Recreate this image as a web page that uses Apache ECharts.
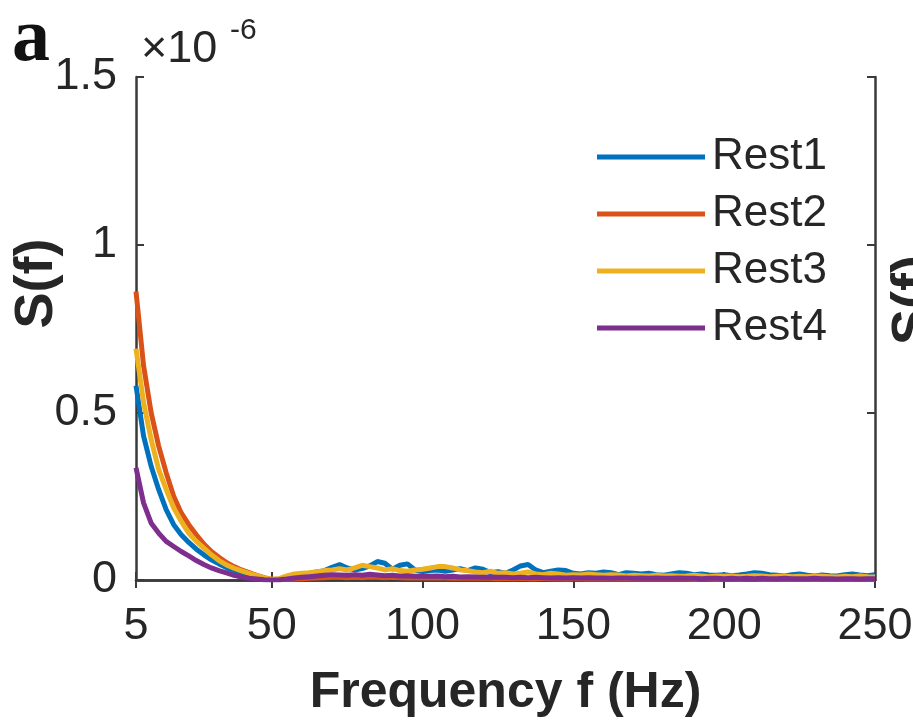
<!DOCTYPE html>
<html>
<head>
<meta charset="utf-8">
<script src="https://cdn.jsdelivr.net/npm/echarts@6/dist/echarts.min.js"></script>
<style>html,body{margin:0;padding:0;background:#fff;}#c{width:913px;height:723px;}</style>
</head>
<body>
<div id="c"></div>
<script>
// Frequency (Hz)
var freq = [
  5,7.5,10,12.5,15,17.5,20,22.5,25,27.5,
  30,32.5,35,37.5,40,42.5,45,47.5,50,
  52.5,55,57.5,60,62.5,65,67.5,70,72.5,75,
  77.5,80,82.5,85,87.5,90,92.5,95,97.5,100,
  102.5,105,107.5,110,112.5,115,117.5,120,122.5,125,
  127.5,130,132.5,135,137.5,140,142.5,145,147.5,150,
  152.5,155,157.5,160,162.5,165,167.5,170,172.5,175,
  177.5,180,182.5,185,187.5,190,192.5,195,197.5,200,
  202.5,205,207.5,210,212.5,215,217.5,220,222.5,225,
  227.5,230,232.5,235,237.5,240,242.5,245,247.5,250
];
// S(f) in units of 1e-6
var rest1 = [
  0.58,0.43,0.34,0.27,0.21,0.165,0.135,0.112,0.092,0.075,
  0.06,0.048,0.037,0.028,0.02,0.014,0.009,0.004,0.001,
  .003,.008,.012,.016,.02,.024,.028,.038,.046,.036,
  .03,.034,.042,.055,.05,.032,.044,.048,.03,.025,
  .028,.03,.026,.03,.034,.028,.036,.032,.022,.025,
  .02,.03,.042,.046,.03,.022,.026,.03,.028,.02,
  .018,.022,.02,.024,.022,.016,.022,.02,.018,.02,
  .016,.014,.018,.022,.02,.016,.018,.015,.014,.016,
  .013,.015,.018,.022,.02,.016,.014,.012,.016,.018,
  .014,.012,.015,.013,.012,.016,.018,.015,.013,.016
];
var rest2 = [
  0.86,0.64,0.50,0.40,0.32,0.25,0.20,0.165,0.135,0.107,
  0.085,0.068,0.052,0.04,0.03,0.022,0.014,0.007,0.002,
  .001,.002,.003,.004,.005,.006,.007,.008,.008,.007,
  .008,.007,.009,.008,.007,.008,.007,.006,.007,.006,
  .006,.007,.006,.005,.006,.005,.005,.006,.005,.004,
  .005,.004,.005,.004,.004,.005,.004,.004,.003,.004,
  .004,.003,.004,.003,.004,.003,.003,.004,.003,.003,
  .003,.003,.004,.003,.003,.002,.003,.003,.002,.003,
  .003,.002,.003,.003,.002,.003,.002,.002,.003,.002,
  .002,.003,.002,.002,.003,.002,.002,.002,.003,.002
];
var rest3 = [
  0.69,0.53,0.42,0.33,0.27,0.215,0.175,0.14,0.115,0.095,
  0.075,0.058,0.045,0.035,0.027,0.02,0.013,0.006,0.002,
  .004,.012,.018,.02,.022,.025,.028,.03,.034,.03,
  .036,.044,.04,.036,.03,.034,.028,.026,.03,.032,
  .036,.04,.04,.036,.03,.028,.024,.022,.026,.02,
  .022,.018,.02,.024,.018,.016,.02,.018,.014,.016,
  .015,.018,.016,.014,.016,.015,.012,.014,.013,.012,
  .014,.012,.013,.011,.012,.014,.012,.01,.012,.011,
  .012,.01,.011,.013,.012,.01,.011,.012,.01,.011,
  .01,.012,.011,.01,.009,.011,.01,.012,.01,.009
];
var rest4 = [
  0.335,0.23,0.17,0.14,0.115,0.1,0.085,0.072,0.058,0.046,
  0.036,0.028,0.021,0.014,0.009,0.005,0.003,0.001,0,
  .001,.003,.006,.008,.01,.012,.014,.016,.015,.014,
  .016,.014,.017,.015,.013,.014,.012,.013,.011,.012,
  .011,.012,.01,.011,.009,.01,.009,.008,.009,.008,
  .008,.007,.008,.007,.008,.007,.006,.007,.006,.007,
  .006,.007,.006,.006,.005,.006,.006,.005,.006,.005,
  .006,.005,.005,.006,.005,.005,.004,.005,.005,.004,
  .005,.004,.005,.004,.005,.004,.004,.005,.004,.004,
  .004,.005,.004,.004,.003,.004,.004,.003,.004,.004
];
var seriesNames = ['Rest1','Rest2','Rest3','Rest4'];
var seriesData = [rest1, rest2, rest3, rest4];
var colors = ['#0072BD','#D95319','#EDB120','#7E2F8E'];
var xTicks = [5,50,100,150,200,250];
var yTicks = [0,0.5,1,1.5];

var FONT = '"Liberation Sans", Arial, Helvetica, sans-serif';
var AX = '#3a3a3a';
var TXT = '#262626';

function pairs(d){ return freq.map(function(f,i){ return [f, d[i]]; }); }

var chart = echarts.init(document.getElementById('c'), null, {renderer:'canvas'});
var axisLineStyle = {color: AX, width: 2.5};
var option = {
  animation: false,
  backgroundColor: '#fff',
  color: colors,
  grid: {left: 136, right: 38, top: 77, bottom: 143, containLabel: false, outerBoundsMode: 'none'},
  legend: {
    orient: 'vertical', left: 592, top: 130,
    itemWidth: 108, itemHeight: 5, itemGap: 13,
    icon: 'rect',
    textStyle: {fontFamily: FONT, fontSize: 44, color: TXT, padding: [0,0,0,2]},
    data: seriesNames
  },
  xAxis: [{
    type: 'value', min: 5, max: 250, position: 'bottom',
    name: 'Frequency f (Hz)', nameLocation: 'middle', nameGap: 88, nameMoveOverlap: false,
    nameTextStyle: {fontFamily: FONT, fontSize: 50, fontWeight: 'bold', color: TXT},
    axisLine: {show: true, lineStyle: axisLineStyle},
    axisTick: {show: true, inside: true, length: 8, lineStyle: {color: AX, width: 2}, customValues: xTicks},
    axisLabel: {fontFamily: FONT, fontSize: 45, color: TXT, margin: 24, customValues: xTicks, showMinLabel: true, showMaxLabel: true},
    splitLine: {show: false}
  },{
    type: 'value', min: 5, max: 250, position: 'top',
    axisLine: {show: true, lineStyle: axisLineStyle},
    axisTick: {show: true, inside: true, length: 8, lineStyle: {color: AX, width: 2}, customValues: xTicks},
    axisLabel: {show: false},
    splitLine: {show: false}
  }],
  yAxis: [{
    type: 'value', min: 0, max: 1.5, interval: 0.5, position: 'left',
    name: 'S(f)', nameLocation: 'middle', nameGap: 72, nameRotate: 90, nameMoveOverlap: false,
    nameTextStyle: {fontFamily: FONT, fontSize: 54, fontWeight: 'bold', color: TXT, padding: [0,0,0,90]},
    axisLine: {show: true, lineStyle: axisLineStyle},
    axisTick: {show: true, inside: true, length: 8, lineStyle: {color: AX, width: 2}},
    axisLabel: {fontFamily: FONT, fontSize: 45, color: TXT, margin: 19,
      formatter: function(v){ return String(v); }},
    splitLine: {show: false}
  },{
    type: 'value', min: 0, max: 1.5, interval: 0.5, position: 'right',
    axisLine: {show: true, lineStyle: axisLineStyle},
    axisTick: {show: true, inside: true, length: 8, lineStyle: {color: AX, width: 2}},
    axisLabel: {show: false},
    splitLine: {show: false}
  }],
  series: seriesNames.map(function(n, i){
    return {
      name: n, type: 'line', xAxisIndex: 0, yAxisIndex: 0,
      data: pairs(seriesData[i]), showSymbol: false, symbol: 'none',
      lineStyle: {width: 5, color: colors[i]}, itemStyle: {color: colors[i]},
      z: 2 + i, clip: true
    };
  }),
  graphic: [
    {type: 'text', left: 12, top: 2, style: {text: 'a', font: 'bold 76px "Liberation Serif", "Times New Roman", serif', fill: '#111'}},
    {type: 'text', left: 141, top: 27, style: {text: '\u00d710', font: '45px ' + FONT, fill: TXT}},
    {type: 'text', left: 230, top: 16, style: {text: '-6', font: '30px ' + FONT, fill: TXT}},
    {type: 'text', x: 914, y: 300, rotation: Math.PI/2, style: {text: 'S(f)', font: 'bold 54px ' + FONT, fill: TXT, align: 'center', verticalAlign: 'middle'}}
  ]
};
chart.setOption(option);
</script>
</body>
</html>
